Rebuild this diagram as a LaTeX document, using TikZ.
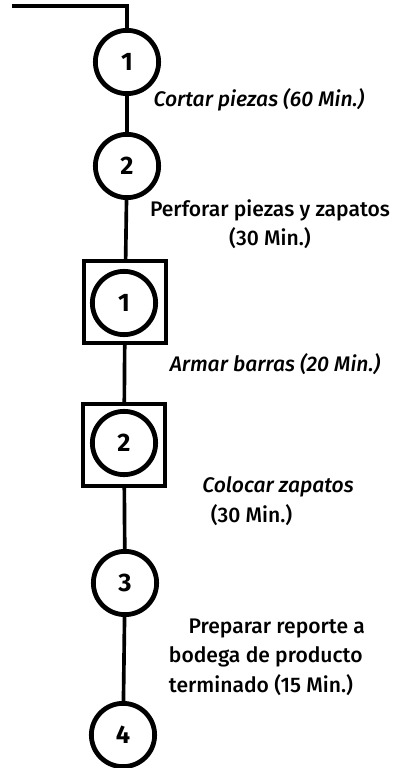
\documentclass[tikz,border=0pt]{standalone}
\usepackage{fontspec}
\setmainfont{Fira Sans}[UprightFont=* Medium,ItalicFont=* Medium Italic,BoldFont=* Bold]
\usepackage{tikz}
\usetikzlibrary{positioning}

\tikzset{
  op/.style={circle,draw,line width=3.4pt,minimum size=45pt,inner sep=0pt,font=\bfseries\fontsize{18}{18}\selectfont},
  insp/.style={rectangle,draw,line width=2.6pt,minimum size=58pt,inner sep=0pt},
  lbl/.style={align=left,font=\fontsize{15}{21}\selectfont},
  flow/.style={line width=2.6pt}
}

\begin{document}
\begin{tikzpicture}[x=0.025cm,y=-0.025cm]
  \useasboundingbox (0,0) rectangle (393,768);

  % operaciones e inspecciones
  \node[op] (o1) at (127,62) {1};
  \node[op] (o2) at (127,166) {2};
  \node[insp] (s1) at (125,302) {};
  \node[op] (i1) at (124,303) {1};
  \node[insp] (s2) at (124,445) {};
  \node[op] (i2) at (124,443) {2};
  \node[op] (o3) at (125,583) {3};
  \node[op] (o4) at (123,735) {4};

  % entrada
  \coordinate (inicio) at (12,6);
  \draw[flow,line width=2.2pt] (inicio) -| (o1);

  % conexiones
  \draw[flow] (o1) -- (o2);
  \draw[flow] (o2) -- (s1);
  \draw[flow] (s1) -- (s2);
  \draw[flow] (s2) -- (o3);
  \draw[flow] (o3) -- (o4);

  % descripciones
  \node[lbl,font=\itshape\fontsize{15}{21}\selectfont] (t1) at (259,100) {Cortar piezas (60 Min.)};
  \node[lbl,align=center] (t2) at (270,224) {Perforar piezas y zapatos\\(30 Min.)};
  \node[lbl,font=\itshape\fontsize{15}{21}\selectfont] (t3) at (275,364) {Armar barras (20 Min.)};
  \node[lbl] (t4) at (278,501) {{\itshape Colocar zapatos}\\\hspace{6pt}(30 Min.)};
  \node[lbl,anchor=west] (t5) at (164,657) {\hspace{14pt}Preparar reporte a\\bodega de producto\\terminado (15 Min.)};
\end{tikzpicture}
\end{document}
